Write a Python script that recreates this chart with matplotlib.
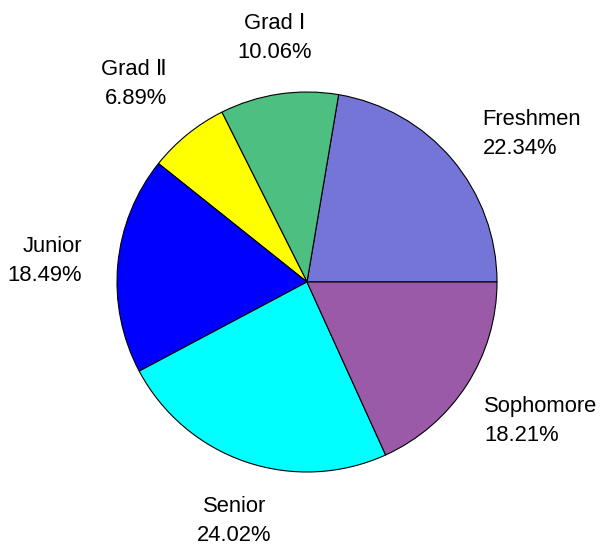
import numpy as np
import matplotlib
matplotlib.use("Agg")
import matplotlib.pyplot as plt

categories = ["Freshmen", "Grad Ⅰ", "Grad Ⅱ", "Junior", "Senior", "Sophomore"]
shares = [22.34, 10.06, 6.89, 18.49, 24.02, 18.21]
colors = ["#7575D8", "#4DBF80", "#FFFF00", "#0000FF", "#00FFFF", "#9A5AA8"]

# label layout (distance from centre in radii, alignment)
label_r = [1.21, 1.165, 1.17, 1.19, 1.19, 1.11]
label_ha = ['left', 'center', 'right', 'right', 'center', 'left']
label_va = ['center', 'bottom', 'bottom', 'center', 'top', 'top']

plt.rcParams['font.family'] = ['Liberation Sans', 'DejaVu Sans']

W, H = 605, 546
fig = plt.figure(figsize=(W / 100, H / 100), dpi=100)
ax = fig.add_axes([0, 0, 1, 1])

cx, cy, R = 307, 282, 190

wedges, _ = ax.pie(shares, colors=colors, startangle=0, counterclock=True,
                   radius=1.0, center=(0, 0), frame=True,
                   wedgeprops=dict(edgecolor='black', linewidth=0.8))
ax.set_xlim(-cx / R, (W - cx) / R)
ax.set_ylim(-(H - cy) / R, cy / R)
ax.set_aspect('auto')
ax.axis('off')

for w, name, v, r, ha, va in zip(wedges, categories, shares, label_r, label_ha, label_va):
    th = np.deg2rad((w.theta1 + w.theta2) / 2)
    ax.text(r * np.cos(th), r * np.sin(th), f"{name}\n{v:.2f}%", ha=ha, va=va,
            multialignment=ha, fontsize=15.8, color='black', linespacing=1.5)

fig.savefig("out.png", dpi=100)
